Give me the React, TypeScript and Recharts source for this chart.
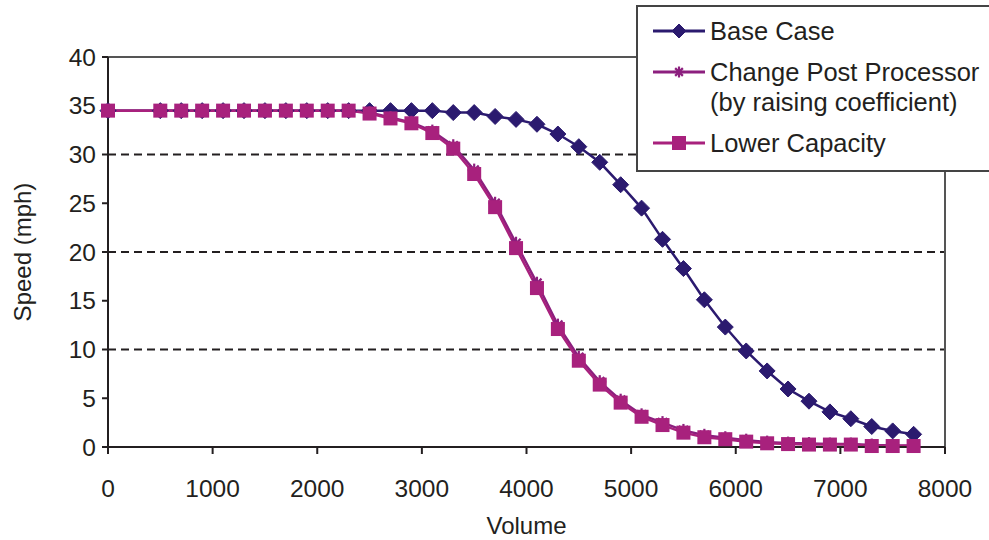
import React from 'react';
import { LineChart, Line, XAxis, YAxis, ReferenceLine, Legend } from 'recharts';

// volume steps
const volumes = [
  0, 500, 700, 900, 1100, 1300, 1500, 1700, 1900, 2100, 2300, 2500, 2700, 2900, 3100, 3300, 3500, 3700, 3900,
  4100, 4300, 4500, 4700, 4900, 5100, 5300, 5500, 5700, 5900, 6100, 6300, 6500, 6700, 6900, 7100, 7300, 7500, 7700,
];

const baseCase = [
  34.5, 34.5, 34.5, 34.5, 34.5, 34.5, 34.5, 34.5, 34.5, 34.5, 34.5, 34.5, 34.5, 34.5, 34.5, 34.3, 34.3, 33.9, 33.6,
  33.1, 32.1, 30.8, 29.2, 26.9, 24.5, 21.3, 18.3, 15.1, 12.3, 9.85, 7.8, 5.95, 4.7, 3.6, 2.9, 2.1, 1.65, 1.3,
];

const postProcessor = [
  34.5, 34.5, 34.5, 34.5, 34.5, 34.5, 34.5, 34.5, 34.5, 34.5, 34.5, 34.3, 33.8, 33.3, 32.4, 30.9, 28.4, 25.0, 20.9,
  16.8, 12.5, 9.2, 6.7, 4.8, 3.3, 2.5, 1.7, 1.2, 0.95, 0.7, 0.5, 0.4, 0.35, 0.3, 0.3, 0.2, 0.15, 0.15,
];

const lowerCapacity = [
  34.5, 34.5, 34.5, 34.5, 34.5, 34.5, 34.5, 34.5, 34.5, 34.5, 34.5, 34.2, 33.7, 33.2, 32.2, 30.6, 28.0, 24.6, 20.4,
  16.3, 12.1, 8.85, 6.4, 4.55, 3.1, 2.25, 1.47, 1.0, 0.8, 0.55, 0.38, 0.3, 0.25, 0.25, 0.25, 0.1, 0.1, 0.1,
];

const xTicks = [0, 1000, 2000, 3000, 4000, 5000, 6000, 7000, 8000];
const yTicks = [0, 5, 10, 15, 20, 25, 30, 35, 40];
const dashedLevels = [10, 20, 30];

const NAVY = '#2b1a6f';
const PURPLE = '#8c1f7e';
const MAGENTA = '#a8217d';
const INK = '#231f20';
const FONT = '"Liberation Sans", Arial, sans-serif';

const data = volumes.map((v, i) => ({
  volume: v,
  base: baseCase[i],
  post: postProcessor[i],
  lower: lowerCapacity[i],
}));

const Diamond = ({ cx, cy, r = 8, color }: any) => (
  <path d={`M${cx},${cy - r} L${cx + r},${cy} L${cx},${cy + r} L${cx - r},${cy} Z`} fill={color} stroke={color} />
);

const Square = ({ cx, cy, s = 7, color }: any) => (
  <rect x={cx - s} y={cy - s} width={s * 2} height={s * 2} fill={color} />
);

const Star = ({ cx, cy, r = 5.5, color }: any) => (
  <g stroke={color} strokeWidth={2.2}>
    <line x1={cx - r} y1={cy} x2={cx + r} y2={cy} />
    <line x1={cx} y1={cy - r} x2={cx} y2={cy + r} />
    <line x1={cx - r * 0.7} y1={cy - r * 0.7} x2={cx + r * 0.7} y2={cy + r * 0.7} />
    <line x1={cx - r * 0.7} y1={cy + r * 0.7} x2={cx + r * 0.7} y2={cy - r * 0.7} />
  </g>
);

const legendItems = [
  { lines: ['Base Case'], color: NAVY, marker: 'diamond' },
  { lines: ['Change Post Processor', '(by raising coefficient)'], color: PURPLE, marker: 'star' },
  { lines: ['Lower Capacity'], color: MAGENTA, marker: 'square' },
];

const LegendBox = () => (
  <div
    style={{
      width: 360,
      height: 167,
      boxSizing: 'border-box',
      border: '2px solid #444',
      background: '#fff',
      fontFamily: FONT,
      fontSize: 25.5,
      color: INK,
      paddingTop: 9,
    }}
  >
    {legendItems.map((item) => (
      <div key={item.lines[0]} style={{ display: 'flex', alignItems: 'flex-start', marginBottom: 11 }}>
        <svg width={72} height={30} style={{ flex: 'none', marginLeft: 13 }}>
          <line x1={2} y1={15} x2={54} y2={15} stroke={item.color} strokeWidth={3} />
          {item.marker === 'diamond' && <Diamond cx={28} cy={15} r={7} color={item.color} />}
          {item.marker === 'star' && <Star cx={28} cy={15} r={5.5} color={item.color} />}
          {item.marker === 'square' && <Square cx={28} cy={15} s={7} color={item.color} />}
        </svg>
        <div style={{ marginLeft: -13, lineHeight: '30px', whiteSpace: 'nowrap' }}>
          {item.lines.map((l) => (
            <div key={l}>{l}</div>
          ))}
        </div>
      </div>
    ))}
  </div>
);

export default function App() {
  const tickStyle = { fontSize: 24.5, fill: INK, fontFamily: FONT };
  return (
    <div style={{ position: 'absolute', left: 0, top: 0, width: 989, height: 540, background: '#fff', overflow: 'hidden' }}>
      <LineChart width={989} height={540} data={data} margin={{ top: 57, right: 44, bottom: 0, left: 8 }}>
        {dashedLevels.map((lv) => (
          <ReferenceLine key={lv} y={lv} stroke={INK} strokeWidth={2.2} strokeDasharray="8 5" />
        ))}
        <ReferenceLine y={40} stroke="#555" strokeWidth={2} />
        <ReferenceLine x={8000} stroke="#555" strokeWidth={2} />
        <XAxis
          dataKey="volume"
          type="number"
          domain={[0, 8000]}
          ticks={xTicks}
          interval={0}
          height={93}
          tickSize={7}
          tickMargin={26}
          stroke={INK}
          strokeWidth={2}
          tick={tickStyle}
          label={{ value: 'Volume', position: 'insideBottom', offset: 6, fontSize: 24, fill: INK, fontFamily: FONT }}
        />
        <YAxis
          type="number"
          domain={[0, 40]}
          ticks={yTicks}
          interval={0}
          width={100}
          tickSize={6}
          tickMargin={6}
          stroke={INK}
          strokeWidth={2}
          tick={tickStyle}
          label={{
            value: 'Speed (mph)',
            angle: -90,
            position: 'insideLeft',
            offset: 14,
            fontSize: 24,
            fill: INK,
            fontFamily: FONT,
            style: { textAnchor: 'middle' },
          }}
        />
        <Legend
          layout="horizontal"
          verticalAlign="middle"
          align="center"
          wrapperStyle={{ left: 636, top: 5, width: 360 }}
          content={() => <LegendBox />}
        />
        <Line
          dataKey="base"
          name="Base Case"
          stroke={NAVY}
          strokeWidth={2.5}
          isAnimationActive={false}
          dot={(p: any) => <Diamond key={`b${p.index}`} cx={p.cx} cy={p.cy} r={8} color={NAVY} />}
        />
        <Line
          dataKey="post"
          name="Change Post Processor (by raising coefficient)"
          stroke={PURPLE}
          strokeWidth={2.5}
          isAnimationActive={false}
          dot={(p: any) => <Star key={`p${p.index}`} cx={p.cx} cy={p.cy} r={6.5} color={PURPLE} />}
        />
        <Line
          dataKey="lower"
          name="Lower Capacity"
          stroke={MAGENTA}
          strokeWidth={2.5}
          isAnimationActive={false}
          dot={(p: any) => <Square key={`l${p.index}`} cx={p.cx} cy={p.cy} s={7} color={MAGENTA} />}
        />
      </LineChart>
    </div>
  );
}
